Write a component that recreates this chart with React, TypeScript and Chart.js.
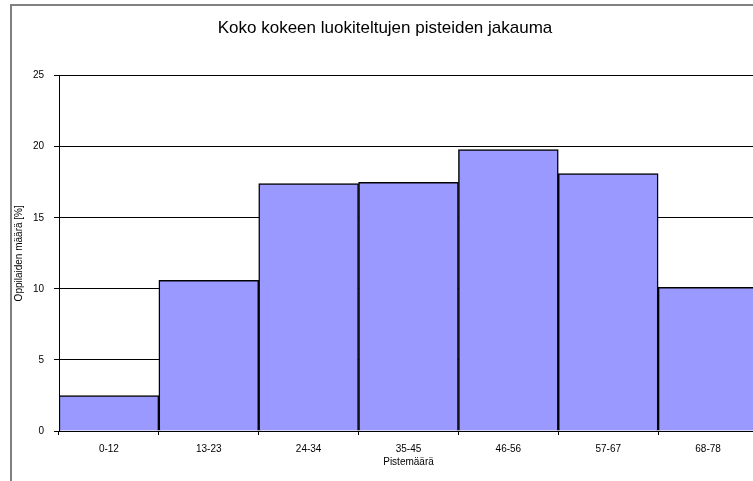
import React, { useEffect, useRef } from "react";
import { Chart, registerables } from "chart.js";

Chart.register(...registerables);

const chartTitle = "Koko kokeen luokiteltujen pisteiden jakauma";
const categories = ["0-12", "13-23", "24-34", "35-45", "46-56", "57-67", "68-78"];
const shares = [2.5, 10.6, 17.4, 17.5, 19.8, 18.1, 10.1];
const yTitle = "Oppilaiden määrä [%]";
const xTitle = "Pistemäärä";
const yMin = 0;
const yMax = 25;
const yStep = 5;

const FONT = "'Liberation Sans', Arial, sans-serif";

const frame = {
  id: "frame",
  beforeDraw(chart: any) {
    const { ctx, width, height } = chart;
    ctx.save();
    ctx.fillStyle = "#ffffff";
    ctx.fillRect(0, 0, width, height);
    ctx.strokeStyle = "#808080";
    ctx.lineWidth = 2;
    ctx.beginPath();
    ctx.moveTo(1, height);
    ctx.lineTo(1, 1);
    ctx.lineTo(width, 1);
    ctx.stroke();
    ctx.restore();
  },
};

export default function App() {
  const ref = useRef<HTMLCanvasElement>(null);

  useEffect(() => {
    if (!ref.current) return;
    const chart = new Chart(ref.current, {
      type: "bar",
      data: {
        labels: categories,
        datasets: [
          {
            data: shares,
            backgroundColor: "#9999FF",
            borderColor: "#000000",
            borderWidth: 1.5,
            barPercentage: 1,
            categoryPercentage: 1,
          },
        ],
      },
      plugins: [frame],
      options: {
        responsive: false,
        animation: false,
        devicePixelRatio: 1,
        layout: { padding: { left: 2, right: 8, top: 2, bottom: 0 } },
        plugins: {
          legend: { display: false },
          tooltip: { enabled: false },
          title: {
            display: true,
            text: chartTitle,
            color: "#000000",
            font: { family: FONT, size: 17, weight: "normal" },
            padding: { top: 11.8, bottom: 37.4 },
          },
        },
        scales: {
          x: {
            offset: true,
            grid: {
              display: true,
              drawOnChartArea: false,
              drawTicks: true,
              tickLength: 4,
              color: "#000000",
              offset: true,
            },
            border: { display: true, color: "#000000", width: 1 },
            ticks: {
              color: "#000000",
              font: { family: FONT, size: 10 },
              padding: 8,
              maxRotation: 0,
              autoSkip: false,
            },
            title: {
              display: true,
              text: xTitle,
              color: "#000000",
              font: { family: FONT, size: 10 },
              padding: { top: 0, bottom: 13 },
            },
            afterFit(scale: any) {
              scale.height = 50;
            },
          },
          y: {
            min: yMin,
            max: yMax,
            grid: {
              color: "#000000",
              tickLength: 5,
              lineWidth: 1,
            },
            border: { display: true, color: "#000000", width: 1 },
            ticks: {
              stepSize: yStep,
              color: "#000000",
              font: { family: FONT, size: 10 },
              padding: 10,
            },
            title: {
              display: true,
              text: yTitle,
              color: "#000000",
              font: { family: FONT, size: 10 },
              padding: { top: 1, bottom: 0 },
            },
            afterFit(scale: any) {
              scale.width = 47;
            },
          },
        },
      },
    });
    return () => chart.destroy();
  }, []);

  return (
    <div
      style={{
        position: "fixed",
        left: 0,
        top: 0,
        width: 753,
        height: 481,
        overflow: "hidden",
        background: "#ffffff",
      }}
    >
      <canvas
        ref={ref}
        width={756}
        height={477}
        style={{ position: "absolute", left: 10, top: 4, width: 756, height: 477 }}
      />
    </div>
  );
}
